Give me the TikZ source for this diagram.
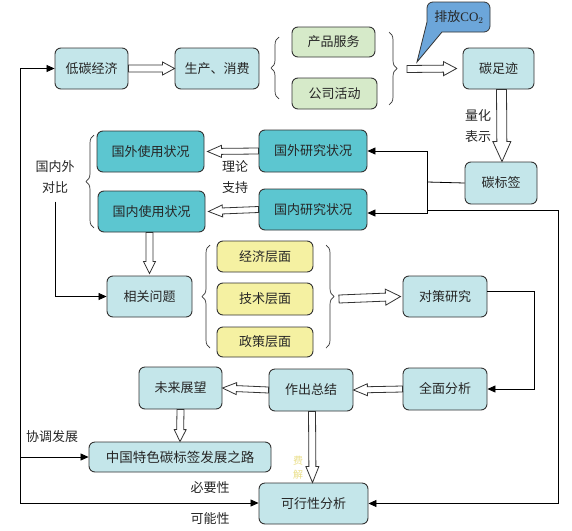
\documentclass[tikz,border=0pt]{standalone}
\usepackage{fontspec}
\setmainfont{Liberation Serif}
\newfontfamily\cjk{Noto Sans CJK SC}
\usetikzlibrary{calc,decorations.pathreplacing,arrows.meta}
\definecolor{lb}{HTML}{C4E6EA}
\definecolor{dk}{HTML}{5CC6D0}
\definecolor{gr}{HTML}{D6EAC9}
\definecolor{yl}{HTML}{F5F1A2}
\definecolor{cb}{HTML}{6CA6DA}
\definecolor{lc}{HTML}{333333}
\definecolor{fy}{HTML}{EADF8A}
\tikzset{
  bx/.style={draw=lc, line width=0.9pt, rounded corners=6pt, inner sep=0pt, font=\cjk\fontsize{13}{15}\selectfont, text=black!85},
  lbx/.style={bx, fill=lb},
  dbx/.style={bx, fill=dk},
  gbx/.style={bx, fill=gr},
  ybx/.style={bx, fill=yl},
  lbl/.style={font=\cjk\fontsize{13}{21}\selectfont, align=center, text=black!85, inner sep=0pt},
  blk/.style={draw=lc, line width=0.8pt, fill=white},
  arr/.style={draw=black, line width=0.8pt, -{Triangle[length=8pt,width=7pt]}},
  ln/.style={draw=black, line width=0.8pt},
  brc/.style={draw=lc, line width=0.7pt, decorate, decoration={brace, amplitude=8pt}}
}
\newcommand\barrow[5]{%
  \coordinate (ba) at #1; \coordinate (bb) at #2;
  \coordinate (bc) at ($(bb)!#5!(ba)$);
  \draw[blk] ($(ba)!#3!90:(bb)$) -- ($(bc)!#3!90:(bb)$) -- ($(bc)!#4!90:(bb)$) -- (bb)
    -- ($(bc)!#4!-90:(bb)$) -- ($(bc)!#3!-90:(bb)$) -- ($(ba)!#3!-90:(bb)$) -- cycle;}
\begin{document}
\begin{tikzpicture}[x=1pt,y=-1pt]
\useasboundingbox[fill=white] (0,0) rectangle (572,530);
% callout
\draw[fill=cb, draw=lc, line width=0.8pt, rounded corners=6pt] (427,26) -- (427,2) -- (490,2) -- (490,32) [sharp corners] -- (442,32) -- (417,62) -- (427,22) [rounded corners=6pt] -- cycle;
\node[lbl] (co2) at (459,17) {排放{\rmfamily CO}$_2$};
% nodes
\node[lbx, minimum width=73pt, minimum height=41pt] (dt) at (91.5,68.5) {低碳经济};
\node[lbx, minimum width=84pt, minimum height=41pt] (sc) at (217,68.5) {生产、消费};
\node[gbx, minimum width=83pt, minimum height=30pt] (cp) at (333.5,42) {产品服务};
\node[gbx, minimum width=85pt, minimum height=31pt] (gs) at (334.5,93.5) {公司活动};
\node[lbx, minimum width=71pt, minimum height=41pt] (tzj) at (498.5,68.5) {碳足迹};
\node[lbl] (lh) at (478,126) {量化\\表示};
\node[lbx, minimum width=72pt, minimum height=42pt] (tbq) at (501,183) {碳标签};
\node[dbx, minimum width=108pt, minimum height=42pt] (gwyj) at (313,151) {国外研究状况};
\node[dbx, minimum width=108pt, minimum height=41pt] (gnyj) at (313,209.5) {国内研究状况};
\node[dbx, minimum width=107pt, minimum height=41pt] (gwsy) at (150.5,151.5) {国外使用状况};
\node[dbx, minimum width=107pt, minimum height=41pt] (gnsy) at (151.5,211.5) {国内使用状况};
\node[lbl] (cmp) at (55,177) {国内外\\对比};
\node[lbl] (ll) at (235,177) {理论\\支持};
\node[lbx, minimum width=85pt, minimum height=41pt] (xg) at (149.5,296.5) {相关问题};
\node[ybx, minimum width=96pt, minimum height=31pt] (jj) at (265,256.5) {经济层面};
\node[ybx, minimum width=96pt, minimum height=32pt] (js) at (265,299) {技术层面};
\node[ybx, minimum width=96pt, minimum height=30pt] (zc) at (265,342) {政策层面};
\node[lbx, minimum width=84pt, minimum height=41pt] (dc) at (445,296.5) {对策研究};
\node[lbx, minimum width=84pt, minimum height=42pt] (qm) at (445,389) {全面分析};
\node[lbx, minimum width=84pt, minimum height=42pt] (zj) at (311,390) {作出总结};
\node[lbx, minimum width=83pt, minimum height=42pt] (wl) at (180.5,388) {未来展望};
\node[lbx, minimum width=182pt, minimum height=30pt, font=\cjk\fontsize{13.5}{15}\selectfont] (zg) at (180,457) {中国特色碳标签发展之路};
\node[lbx, minimum width=109pt, minimum height=41pt] (kx) at (313.5,503.5) {可行性分析};
\node[lbl] (xt) at (52,437) {协调发展};
\node[lbl] (by) at (210,488) {必要性};
\node[lbl] (kn) at (210,519) {可能性};
\node[lbl, font=\cjk\fontsize{10}{14}\selectfont, text=fy] (fj) at (298,468) {费\\解};
% braces
\draw[brc] (279,99) -- (279,37);
\draw[brc] (389,32) -- (389,105);
\draw[brc] (94,228) -- (94,135);
\draw[brc] (210,348) -- (210,245);
\draw[brc] (326,245) -- (326,348);
\coordinate (br2tip) at (407,69);
\coordinate (br5tip) at (339,299);
% block arrows
\barrow{(dt.east)}{(sc.west)}{3.5pt}{6.5pt}{12pt}
\barrow{(br2tip)}{($(tzj.west)+(-6,0)$)}{3.5pt}{7pt}{13pt}
\barrow{($(tzj.south)+(3,0)$)}{($(tbq.north)+(1,0)$)}{5pt}{9pt}{20pt}
\barrow{(gwyj.west)}{($(gwsy.east)+(3,0)$)}{3pt}{6pt}{14pt}
\barrow{(gnyj.west)}{($(gnsy.east)+(3,0)$)}{3pt}{6pt}{14pt}
\barrow{($(gnsy.south)+(-2,0)$)}{($(xg.north)+(0,-2)$)}{3.5pt}{6pt}{12pt}
\barrow{(br5tip)}{($(dc.west)+(-2,0)$)}{4pt}{8pt}{15pt}
\barrow{(qm.west)}{(zj.east)}{3pt}{6pt}{14pt}
\barrow{(zj.west)}{(wl.east)}{3pt}{6pt}{14pt}
\barrow{(wl.south)}{(zg.north)}{3.5pt}{6pt}{12pt}
\barrow{($(zj.south)+(1,0)$)}{($(kx.north)+(-1,0)$)}{3.5pt}{6.5pt}{16pt}
% thin connectors
\coordinate (bus) at (427,182);
\coordinate (bus2) at (427,210);
\coordinate (rt) at (558,210);
\coordinate (lft) at (20,503);
\coordinate (lmid) at (20,457);
\draw[ln] (tbq.west) -- (bus);
\draw[arr] (bus) |- (gwyj.east);
\draw[arr] (bus) |- ($(gnyj.east)+(0,3.5)$);
\draw[arr] (bus2) -- (rt) |- (kx.east);
\draw[arr] (lft) |- (dt.west);
\draw[arr] (lft) -- (kx.west |- lft);
\draw[arr] (lmid) -- (zg.west);
\draw[arr] ($(cmp.south)+(0,8)$) |- (xg.west);
\draw[arr] ($(dc.east)+(0,-5)$) -- ++(47,0) |- (qm.east);
\end{tikzpicture}
\end{document}
